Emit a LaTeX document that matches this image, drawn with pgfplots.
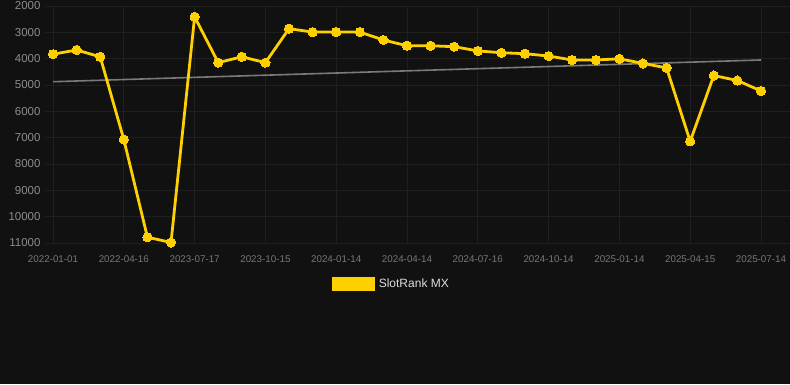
\documentclass[border=0pt]{standalone}
\usepackage{pgfplots}
\pgfplotsset{compat=1.18}
\usepackage{pgfplotstable}
\usepackage{fontspec}
\setmainfont{Liberation Sans}
\definecolor{bg}{HTML}{111111}
\definecolor{gold}{HTML}{FFD000}
\definecolor{gridc}{HTML}{1F1F1F}
\definecolor{trendc}{HTML}{7A7A7A}
\definecolor{ylab}{HTML}{8C8C8C}
\definecolor{xlab}{HTML}{777777}
\definecolor{legtext}{HTML}{DDDDDD}
\pgfplotstableread{
idx val
0 3830
1 3670
2 3930
3 7070
4 10780
5 10980
6 2410
7 4150
8 3930
9 4150
10 2860
11 2990
12 2990
13 2990
14 3290
15 3510
16 3510
17 3545
18 3705
19 3775
20 3810
21 3900
22 4050
23 4050
24 4005
25 4180
26 4350
27 7140
28 4640
29 4830
30 5225
}\rankdata
\pgfplotstableread{
idx val
0 4875
30 4050
}\trenddata
\begin{document}
\begin{tikzpicture}[x=1bp,y=1bp]
\path[use as bounding box, fill=bg] (0,0) rectangle (790,384);
\begin{axis}[
  at={(45bp,141bp)}, anchor=south west,
  scale only axis, width=745bp, height=237bp,
  xmin=-0.34, xmax=31.23,
  ymin=2000, ymax=11000, y dir=reverse,
  ytick={2000,3000,...,11000},
  scaled y ticks=false,
  yticklabel={\pgfmathprintnumber[fixed,precision=0,1000 sep={}]{\tick}},
  xtick={0,3,...,30},
  xticklabels={2022-01-01,2022-04-16,2023-07-17,2023-10-15,2024-01-14,2024-04-14,2024-07-16,2024-10-14,2025-01-14,2025-04-15,2025-07-14},
  /pgf/number format/1000 sep={},
  /pgf/number format/assume math mode=true,
  axis line style={draw=none},
  major tick length=0pt,
  grid=major,
  major grid style={color=gridc, line width=0.9bp},
  yticklabel style={font=\fontsize{11.5bp}{13bp}\selectfont, text=ylab, xshift=-1bp},
  xticklabel style={font=\fontsize{9.8bp}{11bp}\selectfont, text=xlab, yshift=-9bp},
  legend style={at={(0.465,-0.173)}, anchor=center, draw=none, fill=none,
    text=legtext, font=\fontsize{12bp}{14bp}\selectfont, legend cell align=left},
  legend image code/.code={\fill[gold] (0bp,-5.5bp) rectangle (40bp,5.5bp);},
]
\addplot[trendc, line width=1.6bp, forget plot] table[x=idx,y=val] {\trenddata};
\addplot[gold, line width=2.8bp, mark=*, mark size=4.6bp, mark options={fill=gold, draw=gold, line width=0pt}] table[x=idx,y=val] {\rankdata};
\addlegendentry{\hspace{2bp}SlotRank MX}
\end{axis}
\end{tikzpicture}
\end{document}
